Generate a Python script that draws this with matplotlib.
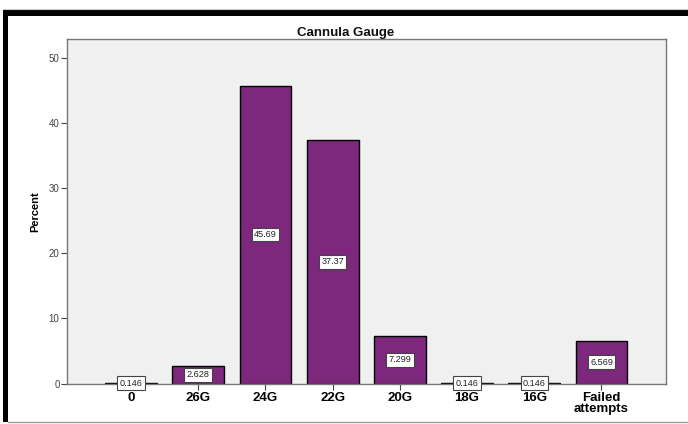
import matplotlib
matplotlib.use("Agg")
import matplotlib.pyplot as plt
from matplotlib.patches import Rectangle
from matplotlib.lines import Line2D

categories = ["0", "26G", "24G", "22G", "20G", "18G", "16G", "Failed\nattempts"]
percent = [0.146, 2.628, 45.69, 37.37, 7.299, 0.146, 0.146, 6.569]
value_labels = ["0.146", "2.628", "45.69", "37.37", "7.299", "0.146", "0.146", "6.569"]
yticks = [0, 10, 20, 30, 40, 50]

plt.rcParams["font.family"] = ["Liberation Sans", "DejaVu Sans"]

fig = plt.figure(figsize=(6.88, 4.24), dpi=100)
fig.patch.set_facecolor("white")

ax = fig.add_axes([66.5 / 688, 1 - 383.5 / 424, (666 - 66.5) / 688, (383.5 - 39.5) / 424])
ax.set_facecolor("#f0f0f0")

x = list(range(len(categories)))
ax.bar(x, percent, width=0.77, color="#7d277d", edgecolor="black", linewidth=1.0, zorder=2)

for xi, v, lab in zip(x, percent, value_labels):
    ax.text(xi, v / 2, lab, ha="center", va="center", fontsize=6.6, color="#222222", zorder=4,
            bbox=dict(boxstyle="square,pad=0.25", facecolor="white", edgecolor="#444444", linewidth=0.8))

ax.set_xlim(-0.96, 7.96)
ax.set_ylim(0, 52.8)
ax.set_yticks(yticks)
ax.set_yticklabels([str(t) for t in yticks], fontsize=7, color="#444444")
ax.set_xticks(x)
ax.set_xticklabels(categories, fontsize=9.5, fontweight="bold", linespacing=0.95)
ax.tick_params(axis="y", length=4, width=0.8, color="#444444", pad=1)
ax.tick_params(axis="x", length=4, width=0.8, color="#444444", pad=2)

for s in ax.spines.values():
    s.set_color("#777777")
    s.set_linewidth(1.0)

ax.set_ylabel("Percent", fontsize=8, fontweight="bold", labelpad=6)
fig.text(346 / 688, 1 - 33 / 424, "Cannula Gauge", ha="center", va="center",
         fontsize=9.5, fontweight="bold", color="#111111")

# outer frame: thick black top and left strokes, thin grey lines
fig.add_artist(Rectangle((3 / 688, 1 - 16 / 424), 685 / 688, 6 / 424, transform=fig.transFigure,
                         facecolor="black", edgecolor="none"))
fig.add_artist(Rectangle((3 / 688, 1 - 422 / 424), 5 / 688, 412 / 424, transform=fig.transFigure,
                         facecolor="black", edgecolor="none"))
fig.add_artist(Line2D([8 / 688, 1], [1 - 421.5 / 424] * 2, transform=fig.transFigure,
                      color="#999999", linewidth=1.0))
fig.add_artist(Line2D([3 / 688, 1], [1 - 8.5 / 424] * 2, transform=fig.transFigure,
                      color="#cccccc", linewidth=0.8))

fig.savefig("out.png", dpi=100)
